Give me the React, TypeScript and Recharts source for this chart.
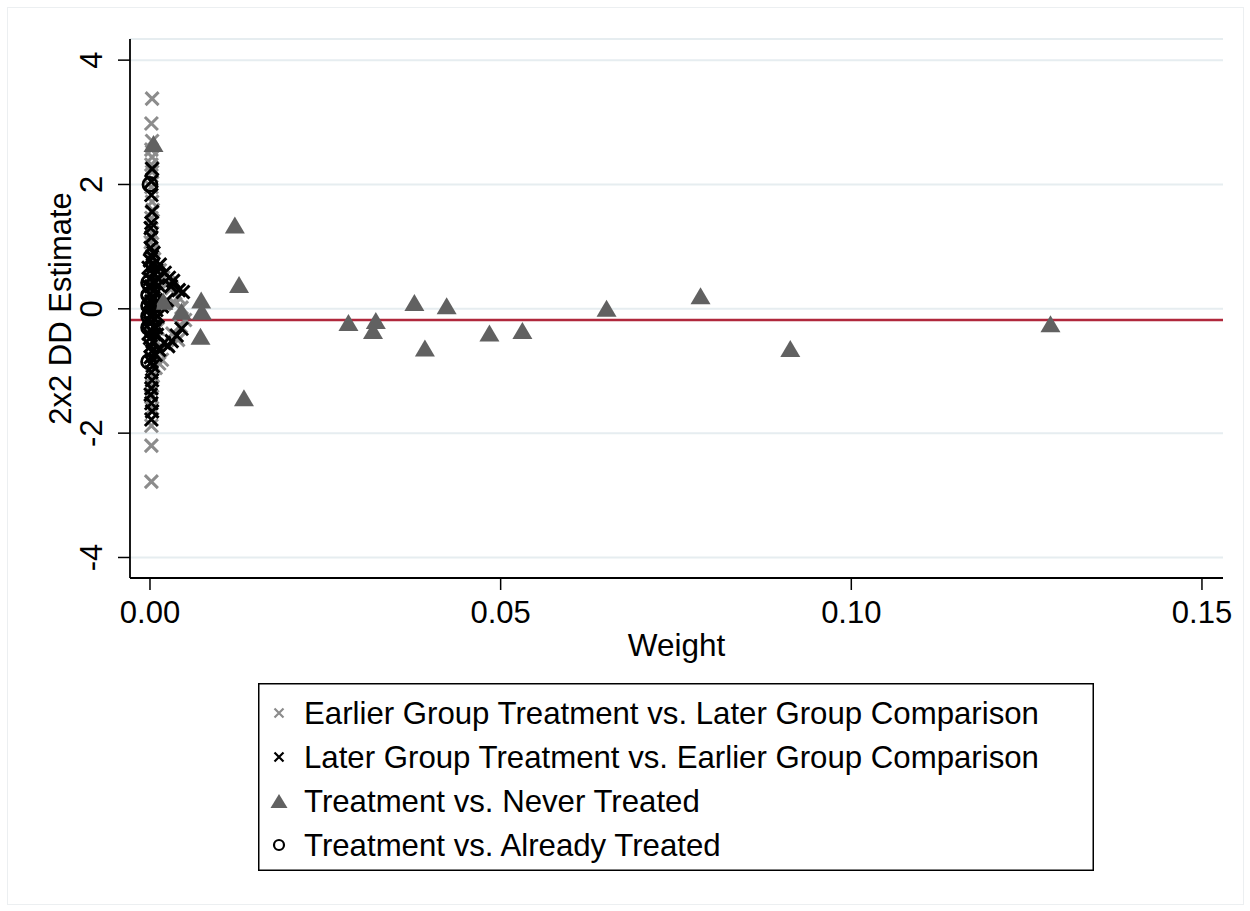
import React from 'react';
import { ScatterChart, Scatter, XAxis, YAxis, CartesianGrid, ReferenceLine, Legend, Label } from 'recharts';

const FONT = '"Liberation Sans", Arial, Helvetica, sans-serif';

// each entry is [weight, 2x2 DD estimate]
const earlierVsLater: [number, number][] = [
  [0.0003, 3.38], [0.0002, 2.98], [0.0003, 2.7], [0.0002, 2.56], [0.0003, 2.44],
  [0.0002, 2.32], [0.0003, 2.2], [0.0002, 1.96], [0.0003, 1.72], [0.0004, 1.59],
  [0.0002, 1.46], [0.0003, 1.22], [0.0001, 1.07], [0.0003, 0.93], [0.0006, 0.8],
  [0.001, 0.66], [0.0014, 0.62], [0.0019, 0.5], [0.0026, 0.42], [0.0031, 0.33],
  [0.004, 0.19], [0.0036, 0.08], [0.0045, 0.02], [0.005, -0.18], [0.0044, -0.28],
  [0.004, -0.5], [0.0032, -0.4], [0.0025, -0.58], [0.0017, -0.82], [0.0012, -0.68],
  [0.0008, -0.95], [0.0004, -1.08], [0.0003, -1.24], [0.0002, -1.42], [0.0003, -1.6],
  [0.0002, -1.88], [0.0002, -2.2], [0.0002, -2.78], [0.0005, 0.35], [0.0008, 0.12],
  [0.0006, -0.1], [0.0011, -0.32], [0.0007, -0.5], [0.0013, -0.88], [0.0009, 0.45],
];

const laterVsEarlier: [number, number][] = [
  [0.0003, 2.25], [0.0002, 2.05], [0.0002, 1.83], [0.0003, 1.56], [0.0002, 1.38],
  [0.0001, 1.3], [0.0002, 1.15], [0.0001, 0.98], [0.0003, 0.84], [0.0014, 0.71],
  [0.0021, 0.58], [0.0027, 0.5], [0.0033, 0.45], [0.003, 0.36], [0.0041, 0.3],
  [0.0047, 0.27], [0.0024, 0.14], [0.0017, 0.04], [0.0045, -0.32], [0.0038, -0.43],
  [0.0031, -0.52], [0.0026, -0.6], [0.002, -0.55], [0.0013, -0.66], [0.0008, -0.74],
  [0.0004, -0.92], [0.0002, -1.02], [0.0003, -1.15], [0.0002, -1.28], [0.0001, -1.38],
  [0.0002, -1.52], [0.0003, -1.65], [0.0002, -1.78],
  [0.0, 0.78], [0.0004, 0.7], [0.0001, 0.62], [0.0006, 0.55], [0.0, 0.48],
  [0.0005, 0.42], [0.0002, 0.36], [0.0006, 0.3], [0.0, 0.24], [0.0005, 0.18],
  [0.0002, 0.12], [0.0006, 0.06], [0.0, 0.0], [0.0005, -0.05], [0.0002, -0.11],
  [0.0006, -0.17], [0.0, -0.23], [0.0005, -0.29], [0.0002, -0.35], [0.0006, -0.41],
  [0.0, -0.47], [0.0004, -0.53], [0.0001, -0.6], [0.0003, -0.68], [0.0005, 0.9],
  [0.0009, 0.62], [0.0008, 0.25], [0.0009, -0.02], [0.0009, -0.3],
  [0.0011, 0.5], [0.0012, 0.38], [0.001, 0.12], [0.0011, -0.12], [0.001, -0.42],
  [-0.0002, 0.66], [-0.0002, 0.36], [-0.0002, 0.08], [-0.0002, -0.18], [-0.0002, -0.4],
  [0.0001, -0.78], [0.0002, -0.86],
];

const vsNeverTreated: [number, number][] = [
  [0.0005, 2.66], [0.0019, 0.12], [0.0045, -0.04], [0.0073, 0.14], [0.0074, -0.04],
  [0.0072, -0.44], [0.0121, 1.35], [0.0127, 0.39], [0.0134, -1.43], [0.0283, -0.22],
  [0.0318, -0.35], [0.0322, -0.19], [0.0377, 0.1], [0.0392, -0.63], [0.0423, 0.05],
  [0.0484, -0.39], [0.0531, -0.35], [0.0651, 0.01], [0.0785, 0.21], [0.0913, -0.64],
  [0.1284, -0.24],
];

const vsAlreadyTreated: [number, number][] = [
  [0.0, 2.0], [-0.0002, 0.42], [-0.0002, 0.22], [-0.0002, 0.05], [-0.0002, -0.12],
  [-0.0002, -0.3], [-0.0002, -0.85],
];

// weighted average of all 2x2 estimates
const overallEstimate = -0.18;

const xTicks = [0, 0.05, 0.1, 0.15];
const yTicks = [-4, -2, 0, 2, 4];

const legendLabels = [
  'Earlier Group Treatment vs. Later Group Comparison',
  'Later Group Treatment vs. Earlier Group Comparison',
  'Treatment vs. Never Treated',
  'Treatment vs. Already Treated',
];

const toPoints = (rows: [number, number][]) => rows.map(([w, y]) => ({ w, y }));

const GREY_X = '#8c8c8c';
const TRIANGLE = '#616161';

const XMark = ({ cx, cy, color, r = 6.5, sw = 3 }: any) => (
  <path
    d={`M${cx - r},${cy - r}L${cx + r},${cy + r}M${cx - r},${cy + r}L${cx + r},${cy - r}`}
    stroke={color}
    strokeWidth={sw}
    fill="none"
  />
);

const Triangle = ({ cx, cy, half = 10, h = 17 }: any) => (
  <path d={`M${cx},${cy - h / 2}L${cx + half},${cy + h / 2}L${cx - half},${cy + h / 2}Z`} fill={TRIANGLE} />
);

const Ring = ({ cx, cy, r = 7, sw = 2.8 }: any) => (
  <circle cx={cx} cy={cy} r={r} fill="none" stroke="#000" strokeWidth={sw} />
);

const XTick = ({ x, y, payload }: any) => (
  <text x={x} y={y + 31} textAnchor="middle" fontFamily={FONT} fontSize={31} fill="#000">
    {Number(payload.value).toFixed(2)}
  </text>
);

const YTick = ({ x, y, payload }: any) => {
  const tx = x - 14;
  return (
    <text x={tx} y={y} transform={`rotate(-90 ${tx} ${y})`} textAnchor="middle" fontFamily={FONT} fontSize={31} fill="#000">
      {payload.value}
    </text>
  );
};

const renderLegend = () => {
  const rowY = [30, 74, 118, 162];
  return (
    <svg width={836} height={188}>
      <rect x={0.75} y={0.75} width={834.5} height={186.5} fill="#fff" stroke="#000" strokeWidth={1.5} />
      <XMark cx={21} cy={rowY[0]} color={GREY_X} r={4.5} sw={2.2} />
      <XMark cx={21} cy={rowY[1]} color="#000" r={4.5} sw={2.2} />
      <Triangle cx={21} cy={rowY[2]} half={8.5} h={14} />
      <Ring cx={21} cy={rowY[3]} r={5} sw={2.2} />
      {legendLabels.map((label, i) => (
        <text key={label} x={46} y={rowY[i] + 11} fontFamily={FONT} fontSize={31.2} fill="#000">
          {label}
        </text>
      ))}
    </svg>
  );
};

export default function App() {
  return (
    <div style={{ position: 'absolute', left: 0, top: 0, width: 1250, height: 911, background: '#fff' }}>
      <div style={{ position: 'absolute', left: 7, top: 7, width: 1235, height: 896, border: '1px solid #eceff1' }} />
      <ScatterChart
        width={1250}
        height={911}
        margin={{ top: 39, right: 27, bottom: 243, left: 0 }}
        style={{ position: 'absolute', left: 0, top: 0 }}
      >
        <CartesianGrid horizontal vertical={false} stroke="#e6edf0" strokeWidth={2} />
        <XAxis
          type="number"
          dataKey="w"
          domain={[-0.00285, 0.153]}
          ticks={xTicks}
          interval={0}
          allowDataOverflow
          height={90}
          tickSize={12}
          tick={<XTick />}
          axisLine={{ stroke: '#000', strokeWidth: 1.8 }}
          tickLine={{ stroke: '#000', strokeWidth: 1.5 }}
        >
          <Label
            content={({ viewBox }: any) => (
              <text x={viewBox.x + viewBox.width / 2} y={viewBox.y + 78} textAnchor="middle" fontFamily={FONT} fontSize={31.5} fill="#000">
                Weight
              </text>
            )}
          />
        </XAxis>
        <YAxis
          type="number"
          dataKey="y"
          domain={[-4.33, 4.34]}
          ticks={yTicks}
          interval={0}
          allowDataOverflow
          width={130}
          tickSize={12}
          tick={<YTick />}
          axisLine={{ stroke: '#000', strokeWidth: 1.8 }}
          tickLine={{ stroke: '#000', strokeWidth: 1.5 }}
        >
          <Label
            content={({ viewBox }: any) => {
              const lx = viewBox.x + 71;
              const ly = viewBox.y + viewBox.height / 2;
              return (
                <text x={lx} y={ly} transform={`rotate(-90 ${lx} ${ly})`} textAnchor="middle" fontFamily={FONT} fontSize={31} fill="#000">
                  2x2 DD Estimate
                </text>
              );
            }}
          />
        </YAxis>
        <ReferenceLine y={overallEstimate} stroke="#b0283c" strokeWidth={2.5} />
        <Scatter
          data={toPoints(earlierVsLater)}
          isAnimationActive={false}
          shape={(p: any) => <XMark cx={p.cx} cy={p.cy} color={GREY_X} />}
        />
        <Scatter
          data={toPoints(laterVsEarlier)}
          isAnimationActive={false}
          shape={(p: any) => <XMark cx={p.cx} cy={p.cy} color="#000" />}
        />
        <Scatter
          data={toPoints(vsNeverTreated)}
          isAnimationActive={false}
          shape={(p: any) => <Triangle cx={p.cx} cy={p.cy} />}
        />
        <Scatter
          data={toPoints(vsAlreadyTreated)}
          isAnimationActive={false}
          shape={(p: any) => <Ring cx={p.cx} cy={p.cy} />}
        />
        <Legend
          content={renderLegend}
          layout="horizontal"
          verticalAlign="middle"
          align="center"
          wrapperStyle={{ left: 258, top: 683, width: 836, height: 188 }}
        />
      </ScatterChart>
    </div>
  );
}
